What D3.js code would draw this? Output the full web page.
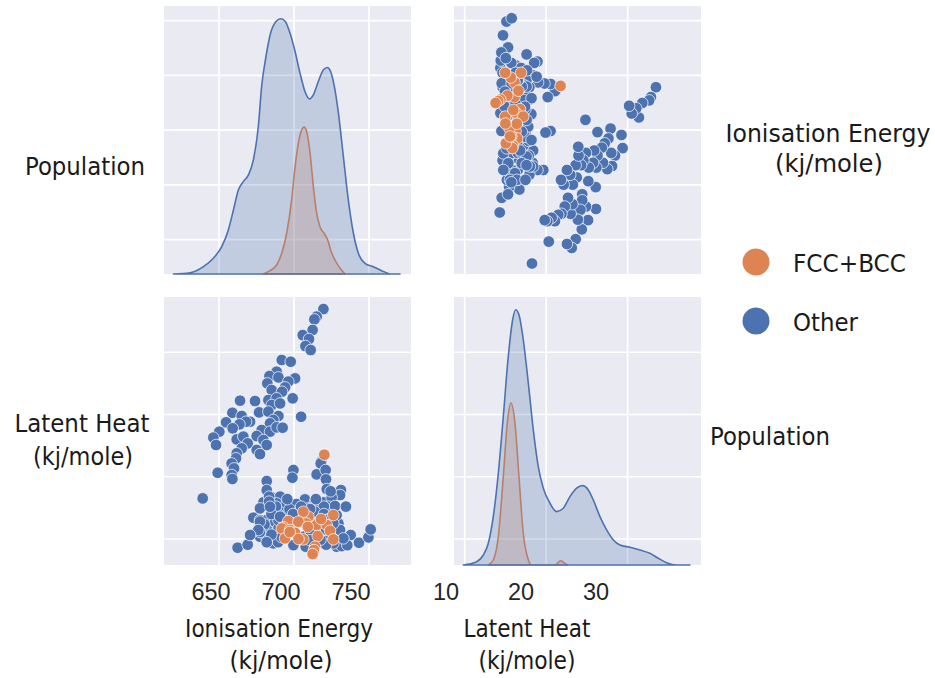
<!DOCTYPE html>
<html><head><meta charset="utf-8">
<script src="https://cdn.jsdelivr.net/npm/d3@7/dist/d3.min.js"></script>
<style>body{margin:0;background:#fff}</style>
</head><body>
<svg id="chart" width="935" height="678"></svg>
<script>
// ---------------- data ----------------
const classes = ["FCC+BCC", "Other"];
const classColors = ["#dd8452", "#4c72b0"];

// "Other" points: Ionisation Energy (kj/mole) and Latent Heat (kj/mole)
const otherIE = [719.6,715.1,713.6,712.4,705.8,710.0,707.6,711.1,691.8,697.8,688.4,683.6,689.6,700.7,682.2,696.2,685.1,694.0,692.0,699.1,
664.0,674.0,682.9,688.4,685.1,690.7,658.9,665.1,676.7,670.7,668.0,682.9,689.6,686.2,704.7,654.7,663.6,659.1,684.0,678.4,
684.0,688.4,692.4,650.2,646.2,648.0,661.8,666.2,675.1,679.6,681.8,669.1,675.1,677.3,665.1,661.8,661.3,658.4,660.0,658.4,
658.9,649.1,718.2,717.8,699.6,698.9,715.1,721.1,721.3,681.8,721.8,731.3,730.7,639.1,681.8,679.6,685.1,690.7,688.4,707.3,
714.0,719.6,725.1,722.9,672.9,677.3,681.8,687.3,692.9,701.8,709.6,712.9,720.7,716.2,720.7,729.6,728.4,674.0,677.3,681.8,
687.3,687.3,706.2,712.9,716.2,719.6,728.4,731.8,737.8,743.3,749.6,751.1,686.2,662.4,669.1,707.8,695.1,715.1,727.3,677.3,
681.8,689.6,710.7,724.0,730.7,698.4,689.6,718.4,699.6,726.2,735.5,734.6,689.4,710.8,725.2,
721.4,721.4,719.9,713.8,701.6,697.0,694.0,691.7,689.4,687.9,684.9,684.9,683.4,680.3,681.8,677.3,677.3,683.4,719.9,722.9,
724.4,717.6,714.6,710.7,706.2,704.7,703.1,699.3,695.5,
677.3,684.0,690.7,706.2,711.8,722.9,732.9,726.2,676.2,670.7];
const otherLH = [33.47,32.86,32.64,31.79,31.38,31.06,30.50,30.18,29.38,29.24,28.44,28.09,27.98,27.90,27.50,27.64,26.97,27.18,26.83,26.30,
26.11,26.08,26.16,26.30,25.76,25.89,25.14,24.88,25.17,24.42,24.42,25.23,24.88,24.56,24.82,24.37,24.21,23.89,24.29,23.75,
23.62,23.97,23.94,23.62,23.14,22.55,23.00,23.22,23.27,22.95,22.55,22.68,22.15,21.82,22.28,21.88,21.48,21.07,20.67,20.14,
19.82,20.32,21.21,21.07,20.54,19.92,20.19,20.54,19.79,19.65,19.01,18.93,18.53,18.26,18.93,17.94,18.34,18.40,17.86,18.18,
17.99,17.94,18.34,17.59,16.71,16.52,16.52,17.19,17.19,17.46,17.46,17.32,17.19,16.52,16.52,16.25,16.92,15.45,15.18,15.77,
16.39,15.32,15.18,15.05,15.18,14.65,14.38,14.43,15.32,14.70,15.13,15.77,14.65,14.30,14.54,14.38,17.86,17.73,17.65,15.99,
15.05,15.85,15.72,15.05,15.72,17.46,16.52,15.85,14.51,14.65,14.50,17.60,14.74,14.90,16.60,
14.54,15.76,17.60,17.20,17.80,17.40,16.40,15.15,17.00,17.60,15.35,17.00,18.40,16.17,14.74,15.56,16.40,18.00,17.00,16.58,
18.83,14.94,18.20,17.40,16.79,17.60,16.40,17.00,18.20,
17.46,17.59,16.79,16.52,16.25,16.52,15.05,16.25,15.72,15.32];

// "FCC+BCC" points
const fccIE = [720.2,726.2,709.6,708.0,706.2,699.6,696.2,692.9,691.8,697.3,700.7,702.9,715.1,715.8,721.8,724.0,726.2,694.0,706.2,714.0,713.3,712.4,
709.2,697.1,703.0,718.0];
const fccLH = [21.77,16.92,16.79,16.25,17.19,16.25,16.44,15.93,15.85,15.72,15.50,16.39,16.12,15.24,16.12,15.66,14.97,15.05,14.97,14.38,14.11,13.79,
15.97,15.56,15.00,16.60];

// Diagonal density curves (relative density)
const ieGridOther = [619.6,630.7,639.6,646.2,651.8,656.2,659.6,662.9,666.2,669.6,672.9,676.2,678.4,681.3,684.4,688.0,691.1,694.2,697.3,700.7,
704.0,707.3,710.2,712.9,716.2,719.6,722.2,724.4,726.7,729.6,732.9,736.2,739.6,742.9,747.3,752.9,758.4,765.1,770.7];
const ieDensOther = [0,1.3,7.3,15.7,27.3,44,64,84,92.3,99,114,147.3,187.3,217.3,240.7,252.3,255,252.3,240.7,222.3,
200.7,182.3,175,179,192.3,204,206.3,202.3,189,160.7,117.3,74,40.7,20.7,10.7,7.3,3.3,0,0];
const ieGridFcc = [679.6,684.0,688.4,691.8,695.1,698.4,700.7,702.9,705.1,706.7,708.4,710.7,712.9,715.1,717.3,720.0,722.9,724.4,727.3,730.7,734.0];
const ieDensFcc = [0,3.3,9,20.7,40.7,74,107.3,130.7,144,146.7,142.3,120.7,87.3,60.7,47.3,40.7,32.3,24,14,5.7,0];

const lhGridOther = [9.83,11.47,12.29,12.9,13.51,14.13,14.74,15.35,15.89,16.25,16.66,17.19,17.81,18.42,19.03,19.65,20.47,21.28,22.1,22.92,
23.74,24.47,25.17,25.78,26.6,27.42,28.24,29.05,30.28,31.51,32.73,33.76,34.78,36.0,37.64];
const lhDensOther = [0,3.3,10,21.7,48.3,91.7,148.3,208.3,245,255,250,225,181.7,135,98.3,76.7,61.7,53.3,56.7,68.3,
76.7,79.3,75,65,48.3,35,25,20,17.7,15,11.7,6.7,2.3,0,0];
const lhGridFcc = [12.9,13.51,14.13,14.74,15.23,15.68,16.17,16.66,17.19,17.81,18.22,20.47,21.08,21.49,21.81,22.18,22.59];
const lhDensFcc = [0,5,28.3,88.3,141.7,161.7,141.7,88.3,31.7,5,0,0,0,2.7,4.3,2.3,0];

// ticks
const ieTicks = [650, 700, 750];
const ieRowTicks = [650, 675, 700, 725, 750];
const lhTicks = [10, 20, 30];
const lhRowTicks = [15, 20, 25, 30];

// ---------------- layout ----------------
const svg = d3.select("#chart");
svg.append("rect").attr("width", 935).attr("height", 678).attr("fill", "#ffffff");

const col0 = [164, 411], col1 = [454, 701];
const row0 = [6, 274], row1 = [297, 565];

const xIE = d3.scaleLinear().domain([613.3, 778]).range(col0);
const xLH = d3.scaleLinear().domain([8.69, 39.0]).range(col1);
const yIE = d3.scaleLinear().domain([634.3, 756.7]).range([row0[1], row0[0]]);
const yLH = d3.scaleLinear().domain([12.91, 34.44]).range([row1[1], row1[0]]);
const densMax = 255 * 1.05;
const yD0 = d3.scaleLinear().domain([0, densMax]).range([row0[1], row0[0]]);
const yD1 = d3.scaleLinear().domain([0, densMax]).range([row1[1], row1[0]]);

function panel(xs, ys, xt, yt) {
  const g = svg.append("g");
  const [x0, x1] = xs.range(); const [yb, ya] = ys.range();
  g.append("rect").attr("x", x0).attr("y", ya).attr("width", x1 - x0).attr("height", yb - ya).attr("fill", "#eaeaf2");
  g.selectAll(".vg").data(xt).join("line")
    .attr("x1", d => xs(d)).attr("x2", d => xs(d)).attr("y1", ya).attr("y2", yb)
    .attr("stroke", "#ffffff").attr("stroke-width", 1.7);
  g.selectAll(".hg").data(yt).join("line")
    .attr("y1", d => ys(d)).attr("y2", d => ys(d)).attr("x1", x0).attr("x2", x1)
    .attr("stroke", "#ffffff").attr("stroke-width", 1.7);
  return g;
}

const p00 = panel(xIE, yIE, ieTicks, ieRowTicks);
const p01 = panel(xLH, yIE, lhTicks, ieRowTicks);
const p10 = panel(xIE, yLH, ieTicks, lhRowTicks);
const p11 = panel(xLH, yLH, lhTicks, lhRowTicks);

function kde(g, xs, ys, grid, dens, color) {
  const pts = grid.map((v, i) => [v, dens[i]]);
  const area = d3.area().x(d => xs(d[0])).y0(ys(0)).y1(d => ys(d[1])).curve(d3.curveMonotoneX);
  g.append("path").attr("d", area(pts))
    .attr("fill", color).attr("fill-opacity", 0.25)
    .attr("stroke", color).attr("stroke-width", 1.6).attr("stroke-linejoin", "round");
}
kde(p00, xIE, yD0, ieGridFcc, ieDensFcc, classColors[0]);
kde(p00, xIE, yD0, ieGridOther, ieDensOther, classColors[1]);
kde(p11, xLH, yD1, lhGridFcc, lhDensFcc, classColors[0]);
kde(p11, xLH, yD1, lhGridOther, lhDensOther, classColors[1]);

const otherPts = otherIE.map((v, i) => ({ie: v, lh: otherLH[i]}));
const fccPts = fccIE.map((v, i) => ({ie: v, lh: fccLH[i]}));
const R = 5.8;
function scatter(g, xs, ys, xk, yk) {
  [[otherPts, classColors[1]], [fccPts, classColors[0]]].forEach(([pts, c]) => {
    g.append("g").selectAll("circle").data(pts).join("circle")
      .attr("cx", d => xs(d[xk])).attr("cy", d => ys(d[yk])).attr("r", R)
      .attr("fill", c).attr("stroke", "#ffffff").attr("stroke-width", 0.7);
  });
}
scatter(p01, xLH, yIE, "lh", "ie");
scatter(p10, xIE, yLH, "ie", "lh");

// ---------------- text ----------------
const labelFont = "'DejaVu Sans Condensed','DejaVu Sans',sans-serif";
function label(x, y, txt, width, anchor) {
  const t = svg.append("text").attr("x", x).attr("y", y).text(txt)
    .attr("font-family", labelFont).attr("font-stretch", "condensed")
    .attr("font-size", 25).attr("fill", "#1a1a1a")
    .attr("text-anchor", anchor || "middle");
  if (width) t.attr("textLength", width).attr("lengthAdjust", "spacingAndGlyphs");
  return t;
}
// left row labels
label(85, 175, "Population", 120);
label(82, 432, "Latent Heat", 135);
label(83, 465, "(kj/mole)", 100);
// bottom column labels
label(279, 637, "Ionisation Energy", 188);
label(281, 669, "(kj/mole)", 103);
label(527, 637, "Latent Heat", 127);
label(527, 669, "(kj/mole)", 97);
// right labels
label(828, 142, "Ionisation Energy", 205);
label(829, 172, "(kj/mole)", 108);
label(710, 445, "Population", 120, "start");

// tick labels
const ieLabelX = d3.scaleLinear().domain([650, 750]).range([211, 351]);
const lhLabelX = d3.scaleLinear().domain([10, 30]).range([446, 596]);
function tickLabels(vals, sx) {
  svg.append("g").selectAll("text").data(vals).join("text")
    .attr("x", d => sx(d)).attr("y", 600).text(d => d)
    .attr("font-family", "'Liberation Sans',Arial,sans-serif").attr("font-size", 23.5)
    .attr("fill", "#262626").attr("text-anchor", "middle");
}
tickLabels(ieTicks, ieLabelX);
tickLabels(lhTicks, lhLabelX);

// legend
const legY = d3.scalePoint().domain(classes).range([262, 321]);
const leg = svg.append("g");
leg.selectAll("circle").data(classes).join("circle")
  .attr("cx", 756).attr("cy", d => legY(d)).attr("r", 13.5)
  .attr("fill", (d, i) => classColors[i]);
classes.forEach((c, i) => {
  label(793, legY(c) + 10, c, i === 0 ? 113 : 65, "start");
});
</script>
</body></html>
